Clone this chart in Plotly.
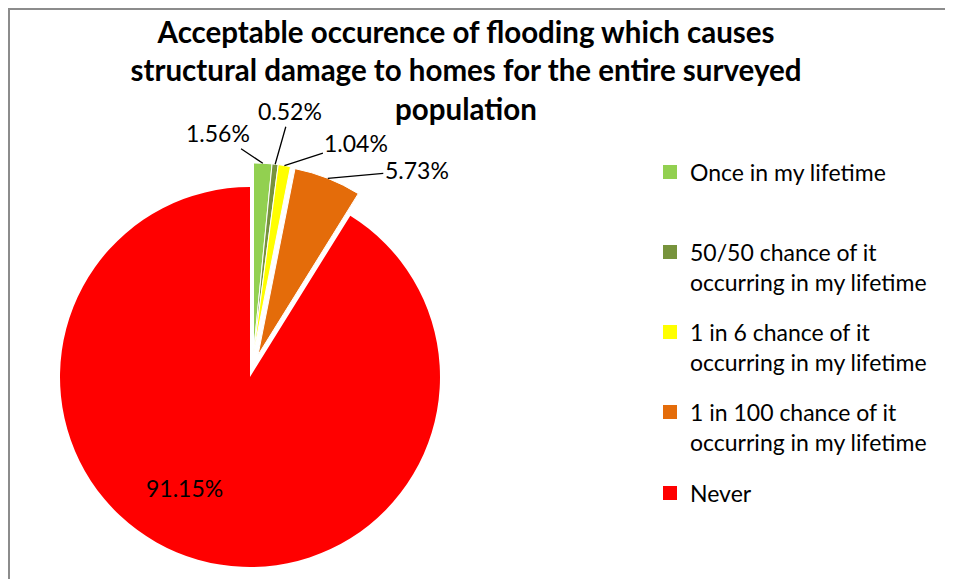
import math
import plotly.graph_objects as go

# ---------------- data ----------------
categories = [
    "Once in my lifetime",
    "50/50 chance of it occurring in my lifetime",
    "1 in 6 chance of it occurring in my lifetime",
    "1 in 100 chance of it occurring in my lifetime",
    "Never",
]
legend_text = [
    "Once in my lifetime",
    "50/50 chance of it<br>occurring in my lifetime",
    "1 in 6 chance of it<br>occurring in my lifetime",
    "1 in 100 chance of it<br>occurring in my lifetime",
    "Never",
]
values = [1.56, 0.52, 1.04, 5.73, 91.15]
colors = ["#92D050", "#77933C", "#FFFF00", "#E46C0A", "#FF0000"]
title_text = ("Acceptable occurence of flooding which causes<br>"
              "structural damage to homes for the entire surveyed<br>population")

# ---------------- layout constants ----------------
OFF = 8                      # page body margin (screen px -> figure px)
W, H = 953 - OFF, 579 - OFF  # figure size
CX, CY, R = 250 - OFF, 377 - OFF, 190   # main pie centre / radius (figure px)
GROUPS = [([0, 1, 2], (3.5, -24)),      # exploded slices and their offset (px)
          ([3], (8, -22))]
BIG = 4
FONT = "Lato"
TRANSPARENT = "rgba(0,0,0,0)"
# label offsets (px) from the middle of each slice's outer arc
LABEL_OFFSETS = {0: (-45, -30), 1: (15, -53), 2: (72, -23), 3: (89, -8)}
BIG_LABEL_POS = (-66, 111)   # relative to pie centre (px)


def domain(cx, cy, r):
    return dict(x=[(cx - r) / W, (cx + r) / W],
                y=[1 - (cy + r) / H, 1 - (cy - r) / H])


def px(x):
    return x / W


def py(y):
    return 1 - y / H


labels_pct = [f"{v:.2f}%" for v in values]
offset_of = {i: off for idx, off in GROUPS for i in idx}

fig = go.Figure()

# main (non-exploded) slice
fig.add_trace(go.Pie(
    labels=categories, values=values, sort=False, direction="clockwise",
    rotation=0, domain=domain(CX, CY, R), showlegend=False,
    marker=dict(colors=[c if i == BIG else TRANSPARENT for i, c in enumerate(colors)],
                line=dict(width=0)),
    textinfo="none", hoverinfo="label+percent",
))

# exploded slices
for idx, (dx, dy) in GROUPS:
    fig.add_trace(go.Pie(
        labels=categories, values=values, sort=False, direction="clockwise",
        rotation=0, domain=domain(CX + dx, CY + dy, R), showlegend=False,
        marker=dict(colors=[c if i in idx else TRANSPARENT for i, c in enumerate(colors)],
                    line=dict(color=["white" if i in idx else TRANSPARENT
                                     for i in range(len(values))], width=1)),
        textinfo="none", hoverinfo="label+percent",
    ))

# data labels with leader lines, anchored at the middle of each slice's arc
annotations = []
total = sum(values)
cum = 0.0
for i, v in enumerate(values):
    theta = 2 * math.pi * (cum + v / 2) / total
    cum += v
    if i == BIG:
        annotations.append(dict(
            x=px(CX + BIG_LABEL_POS[0]), y=py(CY + BIG_LABEL_POS[1]),
            xref="paper", yref="paper", xanchor="center", yanchor="middle",
            text=labels_pct[i], showarrow=False,
            font=dict(family=FONT, size=23, color="black")))
        continue
    dx, dy = offset_of[i]
    ax_, ay_ = LABEL_OFFSETS[i]
    hx = CX + dx + R * math.sin(theta)
    hy = CY + dy - R * math.cos(theta)
    annotations.append(dict(
        x=px(hx), y=py(hy), xref="paper", yref="paper",
        ax=ax_, ay=ay_, text=labels_pct[i], showarrow=True, arrowhead=0,
        arrowwidth=1.3, arrowcolor="black", standoff=0, startstandoff=0,
        font=dict(family=FONT, size=23, color="black")))

# legend entries (one legend per entry so they can be spaced like the original)
legend_y = [172, 252, 332, 412, 493]     # screen y of first text line
for i, name in enumerate(legend_text):
    key = "legend" if i == 0 else f"legend{i + 1}"
    fig.add_trace(go.Scatter(
        x=[None], y=[None], mode="markers", name=name, legend=key,
        marker=dict(symbol="square", size=14, color=colors[i]),
        hoverinfo="skip",
    ))
    fig.update_layout({key: dict(
        x=px(690 - OFF - 40), xanchor="left",
        y=py(legend_y[i] - OFF - 21.5), yanchor="top",
        valign="top", bgcolor="rgba(0,0,0,0)",
        font=dict(family=FONT, size=23, color="black"),
    )})

fig.update_layout(
    width=W, height=H,
    margin=dict(l=0, r=0, t=0, b=0),
    paper_bgcolor="white", plot_bgcolor="white",
    xaxis=dict(visible=False), yaxis=dict(visible=False),
    title=dict(text=title_text, x=px(466 - OFF), xanchor="center",
               y=py(35), yanchor="top",
               font=dict(family=FONT, size=29.5, color="black", weight="bold")),
    annotations=annotations,
    shapes=[dict(type="rect", xref="paper", yref="paper",
                 x0=px(1), x1=1.2, y0=-0.2, y1=py(1),
                 line=dict(color="#8c8c8c", width=2), layer="above")],
)

fig.write_html("out.html")
